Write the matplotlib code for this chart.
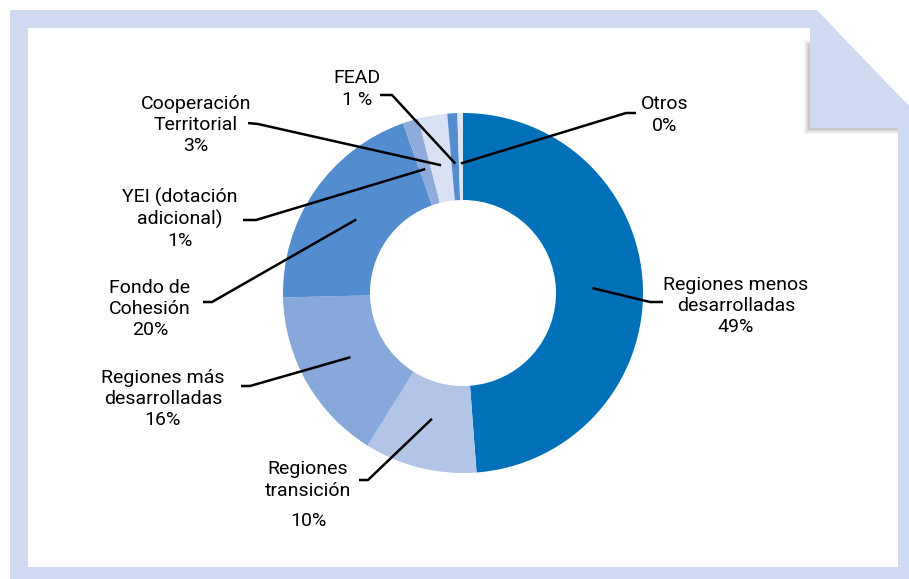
import numpy as np
import matplotlib.pyplot as plt
from matplotlib.patches import Polygon, Rectangle

plt.rcParams["font.family"] = ["Roboto", "DejaVu Sans"]

# slices, clockwise from the top
names = ["Regiones menos\ndesarrolladas", "Regiones\ntransición", "Regiones más\ndesarrolladas",
         "Fondo de\nCohesión", "YEI (dotación\nadicional)", "Cooperación\nTerritorial",
         "FEAD", "Otros"]
shares = [48.8, 10.1, 15.7, 20.0, 1.4, 2.6, 0.9, 0.5]
pct_labels = ["49%", "10%", "16%", "20%", "1%", "3%", "1 %", "0%"]
colors = ["#0071b9", "#b2c5e7", "#86a8da", "#538dcf", "#8eabdc", "#d9e2f4", "#538dcf", "#dde5f4"]

# label layout in pixel coords: text centre, leader knee, leader end
text_pos = [(736, 306), (308, 482), (163, 399), (150, 309), (180, 219), (196, 125), (357, 89), (665, 115)]
knees = [(650, 302), (368, 480), (250, 386), (212, 302), (256, 220), (258, 124), (392, 95), (626, 113)]
ends = [(663, 302), (359, 480), (241, 386), (203, 302), (243, 220), (248, 123), (380, 95), (636, 113)]

W, H = 909, 579
cx, cy, R, r_in = 463, 293, 180, 93
frame_col = "#cfdaf1"

fig = plt.figure(figsize=(W / 100, H / 100), dpi=100)
ax = fig.add_axes([0, 0, 1, 1])

# page frame with folded corner
ax.add_patch(Polygon([(10, 10), (817, 10), (909, 106), (909, 579), (10, 579)],
                     closed=True, color=frame_col, lw=0))
ax.add_patch(Rectangle((28, 28), 870, 539, color="white", lw=0))
# soft shadow under the fold
for i, a in enumerate([0.04, 0.05, 0.06, 0.08, 0.10]):
    ax.add_patch(Polygon([(804 + i, 40 + i), (810, 40 + i), (810, 128),
                          (898, 128), (898, 134 - i), (804 + i, 134 - i)],
                         closed=True, color="#444444", alpha=a, lw=0))
ax.add_patch(Polygon([(810, 28), (834, 28), (909, 106), (909, 128), (810, 128)],
                     closed=True, color=frame_col, lw=0))
ax.add_patch(Rectangle((898, 120), 11, 459, color=frame_col, lw=0))

wedges, _ = ax.pie(shares, colors=colors, radius=R, center=(cx, cy),
                   startangle=-90, counterclock=True,
                   wedgeprops=dict(width=R - r_in, linewidth=0))

for w, name, pct, tp, kn, en in zip(wedges, names, pct_labels, text_pos, knees, ends):
    mid = np.deg2rad((w.theta1 + w.theta2) / 2)
    sx = cx + 0.72 * R * np.cos(mid)
    sy = cy + 0.72 * R * np.sin(mid)
    ax.plot([sx, kn[0], en[0]], [sy, kn[1], en[1]], color="black", lw=1.8,
            solid_capstyle="butt")
    if name == "Regiones\ntransición":
        ax.text(tp[0], tp[1] - 2, name, ha="center", va="center", fontsize=14,
                linespacing=1.25)
        ax.text(tp[0], tp[1] + 39, pct, ha="center", va="center", fontsize=14)
    else:
        ax.text(tp[0], tp[1], name + "\n" + pct, ha="center", va="center",
                fontsize=14, linespacing=1.22)

ax.set_xlim(0, W)
ax.set_ylim(H, 0)
ax.set_aspect("equal")
ax.axis("off")

fig.savefig("out.png", dpi=100, facecolor="white")
